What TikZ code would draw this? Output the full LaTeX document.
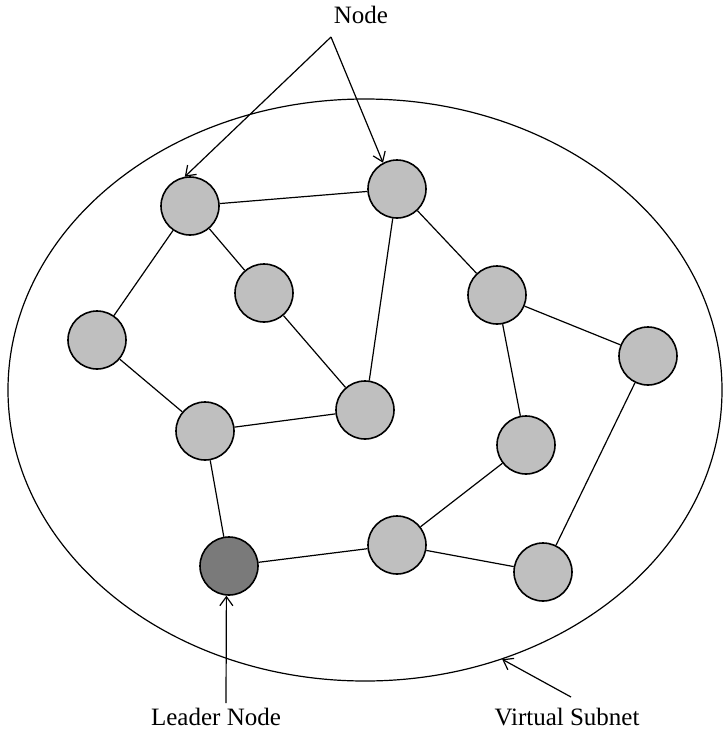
\documentclass[tikz,border=0pt]{standalone}
\usepackage{fontspec}
\setmainfont{Liberation Serif}
\usetikzlibrary{arrows.meta,shapes.geometric}
\begin{document}
\begin{tikzpicture}[x=1pt,y=-1pt,
  vnode/.style={circle,draw=black,line width=1.6pt,fill=black!25,minimum size=58pt,inner sep=0pt},
  leader/.style={vnode,fill=black!52},
  link/.style={line width=1.2pt},
  pointer/.style={line width=1.2pt,-{Straight Barb[length=9pt,width=13pt,line width=1.2pt]}},
  lbl/.style={font=\fontsize{25}{29}\selectfont,inner sep=0pt}]
\useasboundingbox (0,0) rectangle (728,734);
\node[ellipse,draw,line width=1.2pt,minimum width=714pt,minimum height=582pt,inner sep=0pt] (subnet) at (365,390) {};
\node[vnode] (A) at (190,206) {};
\node[vnode] (B) at (397,189) {};
\node[vnode] (C) at (264,293) {};
\node[vnode] (D) at (97,340) {};
\node[vnode] (E) at (497,295) {};
\node[vnode] (F) at (648,356) {};
\node[vnode] (G) at (365,410) {};
\node[vnode] (H) at (205,431) {};
\node[vnode] (I) at (526,445) {};
\node[vnode] (J) at (397,545) {};
\node[leader] (L) at (229,566) {};
\node[vnode] (K) at (543,572) {};
\draw[link] (A) -- (B);
\draw[link] (A) -- (D);
\draw[link] (A) -- (C);
\draw[link] (C) -- (G);
\draw[link] (B) -- (G);
\draw[link] (D) -- (H);
\draw[link] (H) -- (G);
\draw[link] (H) -- (L);
\draw[link] (L) -- (J);
\draw[link] (J) -- (K);
\draw[link] (J) -- (I);
\draw[link] (I) -- (E);
\draw[link] (E) -- (B);
\draw[link] (E) -- (F);
\draw[link] (F) -- (K);
\node[lbl] (nodelab) at (361,15) {Node};
\node[lbl] (leaderlab) at (216,717) {Leader Node};
\node[lbl] (subnetlab) at (567,717) {Virtual Subnet};
\coordinate (nfork) at (331,37);
\coordinate (lstart) at (226,703);
\coordinate (sstart) at (571,697);
\draw[pointer] (nfork) -- (A.100);
\draw[pointer] (nfork) -- (B.118);
\draw[pointer] (lstart) -- (L.265);
\draw[pointer] (sstart) -- (subnet.297);
\end{tikzpicture}
\end{document}
